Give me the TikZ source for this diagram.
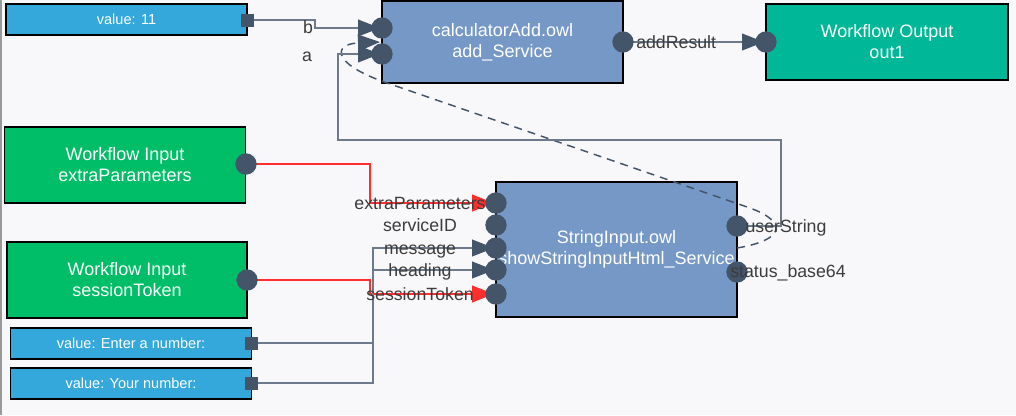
\documentclass[tikz,border=0pt]{standalone}
\usepackage{fontspec}
\setmainfont{Liberation Sans}
\usetikzlibrary{arrows.meta}
\definecolor{bgc}{HTML}{F8F8FA}
\definecolor{valblue}{HTML}{35A8DB}
\definecolor{svcblue}{HTML}{7698C6}
\definecolor{ingreen}{HTML}{00BE68}
\definecolor{outteal}{HTML}{00B898}
\definecolor{portc}{HTML}{44556A}
\definecolor{lineg}{HTML}{6C7A8B}
\definecolor{redc}{HTML}{FF2E2E}
\definecolor{labelc}{HTML}{3C3C3C}
\pgfdeclarelayer{bg}
\pgfdeclarelayer{fg}
\pgfdeclarelayer{top}
\pgfsetlayers{bg,main,fg,top}
\begin{document}
\begin{tikzpicture}[x=0.75pt,y=-0.75pt,
  box/.style={draw=black, line width=1.1pt, inner sep=0pt, text=white, align=center},
  valbox/.style={box, fill=valblue, minimum width=181pt, minimum height=23.25pt, font=\fontsize{10.9pt}{13pt}\selectfont},
  svcbox/.style={box, fill=svcblue, minimum width=180.75pt, font=\fontsize{13.5pt}{15.75pt}\selectfont},
  inbox/.style={box, fill=ingreen, minimum width=181pt, minimum height=57pt, font=\fontsize{13.5pt}{15.75pt}\selectfont},
  outbox/.style={box, fill=outteal, minimum width=181.5pt, minimum height=57pt, font=\fontsize{13.5pt}{15.75pt}\selectfont},
  portdot/.style={circle, fill=portc, minimum size=16pt, inner sep=0pt},
  portsq/.style={rectangle, fill=portc, minimum size=9.75pt, inner sep=0pt},
  plabel/.style={text=labelc, inner sep=0pt, anchor=base, font=\fontsize{13.3pt}{16pt}\selectfont},
  conn/.style={draw=lineg, line width=1.5pt},
  redconn/.style={draw=redc, line width=1.5pt},
  tipg/.style={-{Triangle[length=16.5pt,width=12.5pt,fill=portc,color=portc]}, shorten >=1.5pt},
  tipr/.style={-{Triangle[length=16.5pt,width=12.5pt,fill=redc,color=redc]}, shorten >=1.5pt},
  dragline/.style={draw=portc, line width=1.1pt, dash pattern=on 6pt off 4.5pt}
]
\useasboundingbox (0,0) rectangle (1016,415);
\begin{pgfonlayer}{bg}
\fill[bgc] (0,0) rectangle (1016,415);
\draw[draw=gray!80, line width=1.1pt] (0.8,0) -- (0.8,415);
\node[valbox] (v11) at (126.5,19.5) {value: 11};
\node[svcbox, minimum height=61.5pt] (calc) at (502.5,42) {calculatorAdd.owl\\add\_Service};
\node[outbox] (out) at (887,42) {Workflow Output\\out1};
\node[inbox] (inEx) at (125,165) {Workflow Input\\extraParameters};
\node[inbox, minimum width=180pt] (inSt) at (127,280) {Workflow Input\\sessionToken};
\node[svcbox, minimum height=101.25pt] (si) at (616.5,249.5) {StringInput.owl\\showStringInputHtml\_Service};
\node[valbox] (vEn) at (131,343.5) {value: Enter a number:};
\node[valbox] (vYo) at (131,383.5) {value: Your number:};
\end{pgfonlayer}
\begin{pgfonlayer}{fg}
\node[portsq] (v11p) at (247,20) {};
\node[portsq] (vEnp) at (251,343) {};
\node[portsq] (vYop) at (251,383) {};
\node[portdot] (calcb) at (382,28) {};
\node[portdot] (calca) at (382,54) {};
\node[portdot] (addR) at (623,42) {};
\node[portdot] (outIn) at (766,42) {};
\node[portdot] (exP) at (246,164) {};
\node[portdot] (stP) at (247,280) {};
\node[portdot] (siEx) at (496,203) {};
\node[portdot] (siId) at (496,225) {};
\node[portdot] (siMsg) at (496,248) {};
\node[portdot] (siHd) at (496,270) {};
\node[portdot] (siSt) at (496,294) {};
\node[portdot] (userS) at (737,226) {};
\node[portdot] (statB) at (737,272) {};
\end{pgfonlayer}
% port labels
\begin{pgfonlayer}{top}
\node[plabel] (lb) at (308,33) {b};
\node[plabel] (la) at (307,61) {a};
\node[plabel, anchor=base west] (lres) at (636,48) {addResult};
\node[plabel] (lex) at (420,209) {extraParameters};
\node[plabel] (lid) at (420,231) {serviceID};
\node[plabel] (lmsg) at (420,254) {message};
\node[plabel] (lhd) at (420,276) {heading};
\node[plabel] (lst) at (420,300) {sessionToken};
\node[plabel] (lus) at (786,232) {userString};
\node[plabel] (lsb) at (788,277) {status\_base64};
\end{pgfonlayer}
% drag preview curve
\coordinate (dragS) at (737,248);
\coordinate (dragE) at (380,42);
\draw[dragline, -{Triangle[length=16.5pt,width=12.5pt,fill=portc,color=portc]}] (dragS) .. controls (785,240) and (788,222) .. (750,208) -- (390,84) .. controls (330,64) and (333,44) .. (dragE);
% connectors
\draw[conn, tipg] (v11p.center) -- (315,20) -- (315,28) -- (calcb.center);
\draw[conn, tipg] (userS.center) -- (781,226) -- (781,140) -- (338,140) -- (338,54) -- (calca.center);
\draw[conn, tipg] (addR.center) -- (outIn.center);
\draw[redconn, tipr] (exP.center) -- (370,164) -- (370,203) -- (siEx.center);
\draw[redconn, tipr] (stP.center) -- (370,280) -- (370,294) -- (siSt.center);
\draw[conn, tipg] (vEnp.center) -- (373,343) -- (373,248) -- (siMsg.center);
\draw[conn, tipg] (vYop.center) -- (373,383) -- (373,270) -- (siHd.center);
\end{tikzpicture}
\end{document}
